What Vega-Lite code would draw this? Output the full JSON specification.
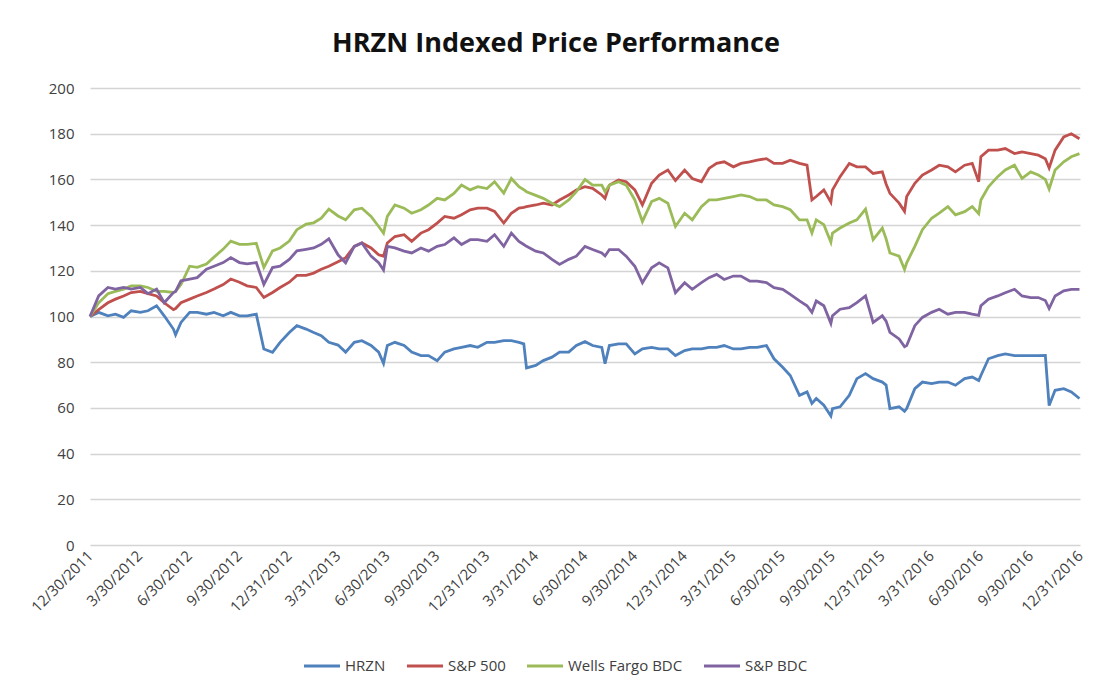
{
  "$schema": "https://vega.github.io/schema/vega-lite/v6.json",
  "width": 990,
  "height": 457,
  "autosize": {"type": "none"},
  "padding": {"left": 90, "top": 88, "right": 14, "bottom": 140},
  "background": "white",
  "title": {"text": "HRZN Indexed Price Performance", "font": "Open Sans", "fontSize": 27, "fontWeight": "bold", "color": "#111111", "anchor": "middle", "dx": -29, "offset": 2, "baseline": "alphabetic"},
  "config": {"view": {"stroke": null}},
  "data": {"values": [
    {"d": "2011-12-30", "h": 100, "s": 100, "w": 100, "p": 100},
    {"d": "2012-01-15", "h": 101.8, "s": 103, "w": 106, "p": 109},
    {"d": "2012-02-01", "h": 100.3, "s": 106, "w": 110, "p": 112.7},
    {"d": "2012-02-15", "h": 101, "s": 107.6, "w": 111, "p": 112},
    {"d": "2012-03-01", "h": 99.6, "s": 109, "w": 112, "p": 112.7},
    {"d": "2012-03-15", "h": 102.5, "s": 110.5, "w": 113.4, "p": 112},
    {"d": "2012-04-01", "h": 101.8, "s": 111, "w": 113.4, "p": 112.7},
    {"d": "2012-04-15", "h": 102.5, "s": 110, "w": 112.7, "p": 110},
    {"d": "2012-05-01", "h": 104.7, "s": 109, "w": 111, "p": 112},
    {"d": "2012-05-15", "h": 100.3, "s": 106, "w": 111, "p": 106},
    {"d": "2012-06-01", "h": 94.5, "s": 103, "w": 110.5, "p": 110.5},
    {"d": "2012-06-05", "h": 92, "s": 103.5, "w": 111, "p": 111},
    {"d": "2012-06-15", "h": 97.4, "s": 106, "w": 114, "p": 115.6},
    {"d": "2012-07-01", "h": 101.8, "s": 107.6, "w": 122, "p": 116.4},
    {"d": "2012-07-15", "h": 101.8, "s": 109, "w": 121.5, "p": 117},
    {"d": "2012-08-01", "h": 101, "s": 110.5, "w": 123, "p": 120.7},
    {"d": "2012-08-15", "h": 101.8, "s": 112, "w": 126, "p": 122},
    {"d": "2012-09-01", "h": 100.3, "s": 114, "w": 129.5, "p": 123.6},
    {"d": "2012-09-15", "h": 101.8, "s": 116.4, "w": 133, "p": 125.8},
    {"d": "2012-10-01", "h": 100.3, "s": 115, "w": 131.6, "p": 123.6},
    {"d": "2012-10-15", "h": 100.3, "s": 113.4, "w": 131.6, "p": 123},
    {"d": "2012-11-01", "h": 101, "s": 112.7, "w": 132, "p": 123.6},
    {"d": "2012-11-15", "h": 85.8, "s": 108.3, "w": 121.5, "p": 114},
    {"d": "2012-12-01", "h": 84.3, "s": 110.5, "w": 128.7, "p": 121.4},
    {"d": "2012-12-15", "h": 88.7, "s": 112.7, "w": 130, "p": 122},
    {"d": "2013-01-01", "h": 93, "s": 115, "w": 133, "p": 125},
    {"d": "2013-01-15", "h": 96, "s": 118, "w": 138, "p": 128.7},
    {"d": "2013-02-01", "h": 94.5, "s": 118, "w": 140.4, "p": 129.4},
    {"d": "2013-02-15", "h": 93, "s": 119, "w": 141, "p": 130},
    {"d": "2013-03-01", "h": 91.6, "s": 120.7, "w": 143, "p": 131.6},
    {"d": "2013-03-15", "h": 88.7, "s": 122, "w": 147, "p": 134},
    {"d": "2013-04-01", "h": 87.5, "s": 124, "w": 144, "p": 127},
    {"d": "2013-04-15", "h": 84.4, "s": 125.7, "w": 142.3, "p": 123.5},
    {"d": "2013-05-01", "h": 88.7, "s": 130.7, "w": 146.7, "p": 130.7},
    {"d": "2013-05-15", "h": 89.4, "s": 132.2, "w": 147.4, "p": 132.2},
    {"d": "2013-06-01", "h": 87.3, "s": 130, "w": 143.8, "p": 126.4},
    {"d": "2013-06-15", "h": 84.4, "s": 127, "w": 139.4, "p": 123.5},
    {"d": "2013-06-24", "h": 79.5, "s": 126.4, "w": 136.5, "p": 120.3},
    {"d": "2013-07-01", "h": 87.3, "s": 132.2, "w": 143.8, "p": 130.7},
    {"d": "2013-07-15", "h": 88.7, "s": 135, "w": 148.8, "p": 130},
    {"d": "2013-08-01", "h": 87.3, "s": 135.8, "w": 147.4, "p": 128.6},
    {"d": "2013-08-15", "h": 84.4, "s": 132.9, "w": 145.2, "p": 127.8},
    {"d": "2013-09-01", "h": 82.9, "s": 136.5, "w": 146.7, "p": 130},
    {"d": "2013-09-15", "h": 82.9, "s": 138, "w": 148.8, "p": 128.6},
    {"d": "2013-10-01", "h": 80.7, "s": 140.9, "w": 151.7, "p": 130.7},
    {"d": "2013-10-15", "h": 84.4, "s": 143.8, "w": 151, "p": 131.5},
    {"d": "2013-11-01", "h": 85.8, "s": 143, "w": 153.9, "p": 134.4},
    {"d": "2013-11-15", "h": 86.5, "s": 144.5, "w": 157.5, "p": 131.5},
    {"d": "2013-12-01", "h": 87.3, "s": 146.7, "w": 155.4, "p": 133.6},
    {"d": "2013-12-15", "h": 86.5, "s": 147.4, "w": 156.8, "p": 133.6},
    {"d": "2014-01-01", "h": 88.7, "s": 147.4, "w": 156, "p": 132.9},
    {"d": "2014-01-15", "h": 88.7, "s": 146, "w": 159, "p": 135.8},
    {"d": "2014-02-01", "h": 89.4, "s": 140.9, "w": 154, "p": 130.7},
    {"d": "2014-02-15", "h": 89.4, "s": 145.2, "w": 160.4, "p": 136.5},
    {"d": "2014-03-01", "h": 88.7, "s": 147.4, "w": 156.8, "p": 132.9},
    {"d": "2014-03-10", "h": 88, "s": 147.8, "w": 155.5, "p": 131.5},
    {"d": "2014-03-15", "h": 77.5, "s": 148.1, "w": 154.6, "p": 130.7},
    {"d": "2014-04-01", "h": 78.6, "s": 148.8, "w": 153, "p": 128.6},
    {"d": "2014-04-15", "h": 80.7, "s": 149.6, "w": 151.7, "p": 127.8},
    {"d": "2014-05-01", "h": 82.2, "s": 148.8, "w": 149.6, "p": 125},
    {"d": "2014-05-15", "h": 84.4, "s": 151, "w": 148.1, "p": 122.8},
    {"d": "2014-06-01", "h": 84.4, "s": 153.2, "w": 151, "p": 125},
    {"d": "2014-06-15", "h": 87.3, "s": 155.4, "w": 154.6, "p": 126.4},
    {"d": "2014-07-01", "h": 89, "s": 156.8, "w": 160, "p": 130.7},
    {"d": "2014-07-15", "h": 87.3, "s": 156.1, "w": 157.5, "p": 129.3},
    {"d": "2014-08-01", "h": 86.5, "s": 153.2, "w": 157.5, "p": 127.8},
    {"d": "2014-08-07", "h": 79.3, "s": 151.7, "w": 154.6, "p": 126.5},
    {"d": "2014-08-15", "h": 87.3, "s": 157.5, "w": 157.5, "p": 129.3},
    {"d": "2014-09-01", "h": 88, "s": 159.7, "w": 159, "p": 129.3},
    {"d": "2014-09-15", "h": 88, "s": 159, "w": 157.5, "p": 126.4},
    {"d": "2014-10-01", "h": 83.6, "s": 155.4, "w": 151, "p": 122},
    {"d": "2014-10-15", "h": 85.8, "s": 148.8, "w": 141.6, "p": 114.8},
    {"d": "2014-11-01", "h": 86.5, "s": 158.3, "w": 150.3, "p": 121.3},
    {"d": "2014-11-15", "h": 85.8, "s": 161.9, "w": 151.7, "p": 123.5},
    {"d": "2014-12-01", "h": 85.8, "s": 164.1, "w": 149.6, "p": 121.3},
    {"d": "2014-12-15", "h": 82.9, "s": 159.5, "w": 139.4, "p": 110.4},
    {"d": "2015-01-01", "h": 85.1, "s": 164.1, "w": 145.2, "p": 114.8},
    {"d": "2015-01-15", "h": 85.8, "s": 160.4, "w": 142.3, "p": 111.9},
    {"d": "2015-02-01", "h": 85.8, "s": 159, "w": 148.1, "p": 114.8},
    {"d": "2015-02-15", "h": 86.5, "s": 164.8, "w": 151, "p": 117},
    {"d": "2015-03-01", "h": 86.5, "s": 167, "w": 151, "p": 118.4},
    {"d": "2015-03-15", "h": 87.3, "s": 167.7, "w": 151.7, "p": 116.2},
    {"d": "2015-04-01", "h": 85.8, "s": 165.5, "w": 152.5, "p": 117.7},
    {"d": "2015-04-15", "h": 85.8, "s": 167, "w": 153.2, "p": 117.7},
    {"d": "2015-05-01", "h": 86.5, "s": 167.7, "w": 152.5, "p": 115.5},
    {"d": "2015-05-15", "h": 86.5, "s": 168.4, "w": 151, "p": 115.5},
    {"d": "2015-06-01", "h": 87.3, "s": 169.1, "w": 151, "p": 114.8},
    {"d": "2015-06-15", "h": 81.5, "s": 167, "w": 148.8, "p": 112.6},
    {"d": "2015-07-01", "h": 77.8, "s": 167, "w": 148.1, "p": 111.9},
    {"d": "2015-07-15", "h": 74.2, "s": 168.4, "w": 146.7, "p": 109.7},
    {"d": "2015-08-01", "h": 65.5, "s": 167, "w": 142.3, "p": 106.8},
    {"d": "2015-08-15", "h": 67, "s": 166.2, "w": 142.3, "p": 104.7},
    {"d": "2015-08-24", "h": 62, "s": 151, "w": 136.5, "p": 101.8},
    {"d": "2015-09-01", "h": 64.1, "s": 152.5, "w": 142.3, "p": 106.8},
    {"d": "2015-09-15", "h": 61.2, "s": 155.4, "w": 140.2, "p": 104.7},
    {"d": "2015-09-28", "h": 56.5, "s": 150, "w": 132.5, "p": 97},
    {"d": "2015-10-01", "h": 59.7, "s": 155.4, "w": 136.5, "p": 100.3},
    {"d": "2015-10-15", "h": 60.5, "s": 161.2, "w": 138.7, "p": 103.2},
    {"d": "2015-11-01", "h": 65.5, "s": 167, "w": 140.9, "p": 103.9},
    {"d": "2015-11-15", "h": 72.8, "s": 165.5, "w": 142.3, "p": 106.1},
    {"d": "2015-12-01", "h": 75, "s": 165.5, "w": 147, "p": 109},
    {"d": "2015-12-15", "h": 72.8, "s": 162.6, "w": 133.6, "p": 97.4},
    {"d": "2016-01-01", "h": 71.3, "s": 163.3, "w": 138.7, "p": 100.3},
    {"d": "2016-01-08", "h": 70, "s": 158, "w": 134, "p": 98},
    {"d": "2016-01-15", "h": 59.7, "s": 153.9, "w": 127.8, "p": 93.1},
    {"d": "2016-02-01", "h": 60.5, "s": 149.6, "w": 126.4, "p": 90.2},
    {"d": "2016-02-11", "h": 58.5, "s": 146, "w": 120.6, "p": 86.8},
    {"d": "2016-02-15", "h": 59.7, "s": 152.5, "w": 123.5, "p": 87.3},
    {"d": "2016-03-01", "h": 68.4, "s": 158.3, "w": 130.7, "p": 96},
    {"d": "2016-03-15", "h": 71.3, "s": 161.9, "w": 138, "p": 99.6},
    {"d": "2016-04-01", "h": 70.6, "s": 164.1, "w": 143, "p": 101.8},
    {"d": "2016-04-15", "h": 71.3, "s": 166.2, "w": 145.2, "p": 103.2},
    {"d": "2016-05-01", "h": 71.3, "s": 165.5, "w": 148.1, "p": 101},
    {"d": "2016-05-15", "h": 69.9, "s": 163.3, "w": 144.5, "p": 101.8},
    {"d": "2016-06-01", "h": 72.8, "s": 166.2, "w": 145.9, "p": 101.8},
    {"d": "2016-06-15", "h": 73.5, "s": 167, "w": 148.1, "p": 101},
    {"d": "2016-06-27", "h": 72, "s": 159, "w": 145, "p": 100.5},
    {"d": "2016-07-01", "h": 74.2, "s": 169.9, "w": 151, "p": 104.7},
    {"d": "2016-07-15", "h": 81.5, "s": 172.8, "w": 156.8, "p": 107.6},
    {"d": "2016-08-01", "h": 82.9, "s": 172.8, "w": 161.2, "p": 109},
    {"d": "2016-08-15", "h": 83.6, "s": 173.5, "w": 164.1, "p": 110.4},
    {"d": "2016-09-01", "h": 82.9, "s": 171.3, "w": 166.2, "p": 111.9},
    {"d": "2016-09-15", "h": 82.9, "s": 172, "w": 160.4, "p": 109},
    {"d": "2016-10-01", "h": 82.9, "s": 171.3, "w": 163.3, "p": 108.3},
    {"d": "2016-10-15", "h": 82.9, "s": 170.6, "w": 161.9, "p": 108.3},
    {"d": "2016-10-28", "h": 83, "s": 169, "w": 160, "p": 107},
    {"d": "2016-11-04", "h": 61, "s": 165, "w": 155.8, "p": 103.5},
    {"d": "2016-11-15", "h": 67.7, "s": 172.8, "w": 164.1, "p": 109},
    {"d": "2016-12-01", "h": 68.4, "s": 178.6, "w": 167.7, "p": 111.2},
    {"d": "2016-12-15", "h": 67, "s": 180, "w": 169.9, "p": 111.9},
    {"d": "2016-12-30", "h": 64.1, "s": 177.8, "w": 171.3, "p": 111.9}
  ]},
  "transform": [{"fold": ["h", "s", "w", "p"], "as": ["k", "v"]}],
  "mark": {"type": "line", "strokeWidth": 2.8},
  "encoding": {
    "x": {
      "field": "d", "type": "temporal",
      "scale": {"type": "utc", "nice": false, "domain": [{"year": 2011, "month": 12, "date": 30, "utc": true}, {"year": 2016, "month": 12, "date": 31, "utc": true}]},
      "axis": {
        "title": null,
        "values": [
          {"year": 2011, "month": 12, "date": 30, "utc": true},
          {"year": 2012, "month": 3, "date": 30, "utc": true},
          {"year": 2012, "month": 6, "date": 30, "utc": true},
          {"year": 2012, "month": 9, "date": 30, "utc": true},
          {"year": 2012, "month": 12, "date": 31, "utc": true},
          {"year": 2013, "month": 3, "date": 31, "utc": true},
          {"year": 2013, "month": 6, "date": 30, "utc": true},
          {"year": 2013, "month": 9, "date": 30, "utc": true},
          {"year": 2013, "month": 12, "date": 31, "utc": true},
          {"year": 2014, "month": 3, "date": 31, "utc": true},
          {"year": 2014, "month": 6, "date": 30, "utc": true},
          {"year": 2014, "month": 9, "date": 30, "utc": true},
          {"year": 2014, "month": 12, "date": 31, "utc": true},
          {"year": 2015, "month": 3, "date": 31, "utc": true},
          {"year": 2015, "month": 6, "date": 30, "utc": true},
          {"year": 2015, "month": 9, "date": 30, "utc": true},
          {"year": 2015, "month": 12, "date": 31, "utc": true},
          {"year": 2016, "month": 3, "date": 31, "utc": true},
          {"year": 2016, "month": 6, "date": 30, "utc": true},
          {"year": 2016, "month": 9, "date": 30, "utc": true},
          {"year": 2016, "month": 12, "date": 31, "utc": true}
        ],
        "labelExpr": "utcFormat(datum.value, '%-m/%-d/%Y')",
        "labelAngle": -45, "labelAlign": "right", "labelBaseline": "middle",
        "labelFont": "Open Sans", "labelFontSize": 15, "labelColor": "#404040",
        "labelPadding": 8, "labelOverlap": false, "labelBound": false, "labelFlush": false,
        "grid": false, "domain": false, "ticks": false
      }
    },
    "y": {
      "field": "v", "type": "quantitative",
      "scale": {"domain": [0, 200], "nice": false},
      "axis": {
        "title": null, "values": [0, 20, 40, 60, 80, 100, 120, 140, 160, 180, 200],
        "labelFont": "Open Sans", "labelFontSize": 15, "labelColor": "#404040", "labelPadding": 16,
        "gridColor": "#d4d4d4", "gridWidth": 1.4, "domain": false, "ticks": false
      }
    },
    "color": {
      "field": "k", "type": "nominal",
      "scale": {"domain": ["h", "s", "w", "p"], "range": ["#4F81BD", "#C0504D", "#9BBB59", "#8064A2"]},
      "legend": {
        "title": null, "orient": "none", "direction": "horizontal", "legendX": 212, "legendY": 558,
        "symbolType": "stroke", "symbolSize": 1300, "symbolStrokeWidth": 3,
        "labelFont": "Open Sans", "labelFontSize": 15, "labelColor": "#404040", "labelOffset": 3, "columnPadding": 14,
        "labelExpr": "({'h': 'HRZN', 's': 'S&P 500', 'w': 'Wells Fargo BDC', 'p': 'S&P BDC'})[datum.label]"
      }
    }
  }
}
